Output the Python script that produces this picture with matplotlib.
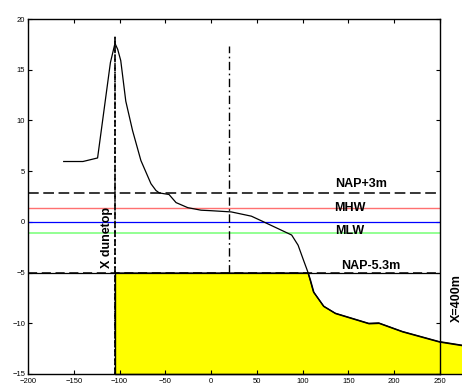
"""
Dwarsprofiel duin met referentieniveaus (NAP+3m, MHW, MLW, NAP-5.3m)
"""

import numpy as np
import matplotlib
matplotlib.use('Agg')
import matplotlib.pyplot as plt

plt.rcParams['font.family'] = ['Liberation Sans', 'DejaVu Sans']

# Profiel (x in m, hoogte in m t.o.v. NAP)
profiel_x = np.array([-161, -140, -124, -110, -105, -102, -98.7, -93.2, -85.8,
                      -76.7, -65.7, -60.3, -56.6, -46, -38.3, -25.5, -11, 0, 22, 44,
                      55, 88, 95, 100.8, 105.5, 108, 111.7, 122.7, 135.5, 157.4, 172,
                      183, 208.7, 249, 277])
profiel_y = np.array([5.95, 5.95, 6.3, 15.7, 17.6, 17.0, 15.9, 11.9, 9.0,
                      6.05, 3.76, 3.1, 2.85, 2.7, 1.9, 1.4, 1.15, 1.1, 0.98, 0.56,
                      0.1, -1.3, -2.3, -3.75, -4.9, -5.7, -6.9, -8.3, -9.0, -9.6, -10.0,
                      -9.96, -10.8, -11.8, -12.2])

# Niveaus
NAP_PLUS3 = 2.8
MHW = 1.4
NUL = 0.0
MLW = -1.05
NAP_MIN53 = -5.0
BODEM = -15

# Verticale lijnen
X_DUINTOP = -105
X_DUINTOP_TOP = 18.3
X_RAAI = 20
X_RAAI_TOP = 17.3

x_ticks = [-200, -150, -100, -50, 0, 50, 100, 150, 200, 250]
y_ticks = [-15, -10, -5, 0, 5, 10, 15, 20]

fig = plt.figure(figsize=(4.62, 3.84), dpi=100)
ax = fig.add_axes([28 / 462, 10 / 384, 412 / 462, 355 / 384])

# Gele vulling onder NAP-5.3m en het profiel
sel = profiel_x > X_DUINTOP
vul_x = np.concatenate([[X_DUINTOP], profiel_x[sel]])
vul_top = np.minimum(np.concatenate([[NAP_MIN53], profiel_y[sel]]), NAP_MIN53)
ax.fill_between(vul_x, vul_top, BODEM, facecolor='yellow', edgecolor='black',
                linewidth=1.0, clip_on=False, zorder=1)

# Horizontale niveaus
ax.axhline(NAP_PLUS3, color='black', linestyle='--', dashes=(7, 3), linewidth=1.1, zorder=2)
ax.axhline(MHW, color='#ff7070', linewidth=1.0, zorder=2)
ax.axhline(NUL, color='#0000ff', linewidth=0.9, zorder=2)
ax.axhline(MLW, color='#80ff80', linewidth=1.2, zorder=2)
ax.axhline(NAP_MIN53, color='black', linewidth=0.9, zorder=2)
ax.axhline(NAP_MIN53, color='black', linestyle='--', dashes=(6, 3), linewidth=1.1, zorder=2)

# Verticale lijnen
ax.plot([X_DUINTOP, X_DUINTOP], [BODEM, X_DUINTOP_TOP], color='black',
        linestyle='--', dashes=(4, 1.5), linewidth=1.2, zorder=3)
ax.plot([X_DUINTOP, X_DUINTOP], [BODEM, X_DUINTOP_TOP], color='black',
        linestyle=':', linewidth=1.2, zorder=3)
ax.plot([X_RAAI, X_RAAI], [NAP_MIN53, X_RAAI_TOP], color='black',
        linestyle='-.', dashes=(6, 2.5, 1.2, 2.5), linewidth=1.0, zorder=3)

# Profiel
ax.plot(profiel_x, profiel_y, color='black', linewidth=0.9, clip_on=False, zorder=4)

# Labels
tkw = dict(fontsize=9, fontweight='bold', ha='center', va='center', zorder=5)
ax.text(163.5, 3.7, 'NAP+3m', **tkw)
ax.text(152, 1.4, 'MHW', **tkw)
ax.text(151, -0.95, 'MLW', **tkw)
ax.text(174, -4.35, 'NAP-5.3m', **tkw)
ax.text(-113.3, -1.5, 'X dunetop', rotation=90, **tkw)
ax.text(268, -7.5, 'X=400m', rotation=90, clip_on=False, **tkw)

ax.set_xlim(-200, 250)
ax.set_ylim(-15, 20)
ax.set_xticks(x_ticks)
ax.set_yticks(y_ticks)
ax.tick_params(direction='in', top=True, right=True, length=3, width=0.8,
               labelsize=5.5)
ax.tick_params(axis='x', pad=3)
ax.tick_params(axis='y', pad=2)
for s in ax.spines.values():
    s.set_linewidth(1.0)
    s.set_zorder(6)

fig.savefig('out.png', dpi=100)
